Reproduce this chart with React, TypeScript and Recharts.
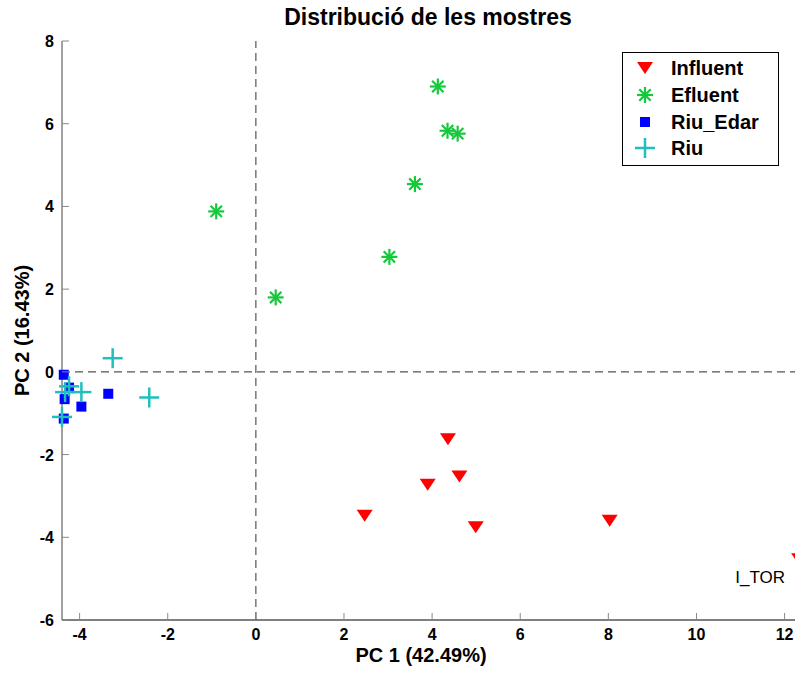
import { ScatterChart, Scatter, XAxis, YAxis, ReferenceLine, Legend } from "recharts";

// PCA scores
const influentX = [4.36, 4.62, 3.9, 2.47, 4.99, 8.03, 12.33];
const influentY = [-1.63, -2.53, -2.73, -3.48, -3.76, -3.6, -4.53];
const influentNames = ["", "", "", "", "", "", "I_TOR"];

const efluentX = [4.13, 4.35, 4.58, 3.61, -0.9, 3.03, 0.45];
const efluentY = [6.9, 5.83, 5.76, 4.54, 3.88, 2.78, 1.8];

const riuEdarX = [-4.36, -4.24, -4.34, -3.96, -3.35, -4.36];
const riuEdarY = [-0.07, -0.38, -0.66, -0.84, -0.53, -1.13];

const riuX = [-3.25, -2.42, -4.24, -4.33, -3.96, -4.4];
const riuY = [0.33, -0.62, -0.35, -0.49, -0.49, -1.09];

const xTicks = [-4, -2, 0, 2, 4, 6, 8, 10, 12];
const yTicks = [-6, -4, -2, 0, 2, 4, 6, 8];

const RED = "#ff0000";
const GREEN = "#14c93c";
const BLUE = "#0000ff";
const CYAN = "#1fbfbf";
const FONT = "'Liberation Sans', Arial, Helvetica, sans-serif";

const toPoints = (xs: number[], ys: number[], names?: string[]) =>
  xs.map((x, i) => ({ x, y: ys[i], name: names ? names[i] : "" }));

function TriangleDown(props: any) {
  const { cx, cy, payload } = props;
  return (
    <g>
      <path d={`M${cx - 8},${cy - 6}L${cx + 8},${cy - 6}L${cx},${cy + 6}Z`} fill={RED} />
      {payload && payload.name ? (
        <text x={cx - 14} y={cy + 24} textAnchor="end" fontSize={17} fontFamily={FONT} fill="#000">
          {payload.name}
        </text>
      ) : null}
    </g>
  );
}

function Asterisk(props: any) {
  const { cx, cy } = props;
  const r = 8;
  const d = 5.7;
  return (
    <g stroke={GREEN} strokeWidth={2.2}>
      <line x1={cx - r} y1={cy} x2={cx + r} y2={cy} />
      <line x1={cx} y1={cy - r} x2={cx} y2={cy + r} />
      <line x1={cx - d} y1={cy - d} x2={cx + d} y2={cy + d} />
      <line x1={cx - d} y1={cy + d} x2={cx + d} y2={cy - d} />
    </g>
  );
}

function Square(props: any) {
  const { cx, cy } = props;
  return <rect x={cx - 5} y={cy - 5} width={10} height={10} fill={BLUE} />;
}

function Plus(props: any) {
  const { cx, cy } = props;
  const r = 10;
  return (
    <g stroke={CYAN} strokeWidth={2.5}>
      <line x1={cx - r} y1={cy} x2={cx + r} y2={cy} />
      <line x1={cx} y1={cy - r} x2={cx} y2={cy + r} />
    </g>
  );
}

const series = [
  { name: "Influent", Shape: TriangleDown },
  { name: "Efluent", Shape: Asterisk },
  { name: "Riu_Edar", Shape: Square },
  { name: "Riu", Shape: Plus },
];

function LegendBox() {
  return (
    <div
      style={{
        width: 157,
        height: 114,
        boxSizing: "border-box",
        border: "1.5px solid #000",
        background: "#fff",
        fontFamily: FONT,
        fontWeight: "bold",
        fontSize: 20,
        paddingTop: 2,
      }}
    >
      {series.map(({ name, Shape }) => (
        <div key={name} style={{ display: "flex", alignItems: "center", height: 26.7 }}>
          <svg width={48} height={26} style={{ flex: "none" }}>
            <Shape cx={22} cy={13} />
          </svg>
          <span style={{ lineHeight: "22px" }}>{name}</span>
        </div>
      ))}
    </div>
  );
}

function BottomTick(props: any) {
  const { x, y, payload } = props;
  return (
    <g>
      <line x1={x} x2={x} y1={y} y2={y - 7} stroke="#888" />
      <text x={x} y={y + 20} textAnchor="middle" fontSize={16} fontWeight="bold" fontFamily={FONT} fill="#000">
        {payload.value}
      </text>
    </g>
  );
}

function TopTick(props: any) {
  const { x, y } = props;
  return <line x1={x} x2={x} y1={y} y2={y + 7} stroke="#888" />;
}

function LeftTick(props: any) {
  const { x, y, payload } = props;
  return (
    <g>
      <line x1={x} x2={x + 7} y1={y} y2={y} stroke="#888" />
      <text x={x - 8} y={y + 6} textAnchor="end" fontSize={16} fontWeight="bold" fontFamily={FONT} fill="#000">
        {payload.value}
      </text>
    </g>
  );
}

export default function App() {
  return (
    <div
      style={{
        position: "absolute",
        left: 0,
        top: 0,
        width: 795,
        height: 675,
        overflow: "hidden",
        background: "#fff",
      }}
    >
      <div
        style={{
          position: "absolute",
          left: 0,
          top: 5,
          width: 856,
          textAlign: "center",
          fontFamily: FONT,
          fontWeight: "bold",
          fontSize: 23,
          lineHeight: "25px",
        }}
      >
        Distribució de les mostres
      </div>
      <div
        style={{
          position: "absolute",
          left: 0,
          top: 644,
          width: 842,
          textAlign: "center",
          fontFamily: FONT,
          fontWeight: "bold",
          fontSize: 20,
          lineHeight: "22px",
        }}
      >
        PC 1 (42.49%)
      </div>
      <ScatterChart width={803} height={675} margin={{ top: 41, right: 3, bottom: 0, left: 0 }}>
        <XAxis
          xAxisId="top"
          orientation="top"
          type="number"
          dataKey="x"
          domain={[-4.4, 12.35]}
          ticks={xTicks}
          interval={0}
          height={0}
          tickLine={false}
          tickSize={0}
          tickMargin={0}
          tick={<TopTick />}
          axisLine={{ stroke: "#000" }}
        />
        <XAxis
          type="number"
          dataKey="x"
          domain={[-4.4, 12.35]}
          ticks={xTicks}
          interval={0}
          height={55}
          tickLine={false}
          tickSize={0}
          tickMargin={0}
          tick={<BottomTick />}
          axisLine={{ stroke: "#000" }}
        />
        <YAxis
          type="number"
          dataKey="y"
          domain={[-6, 8]}
          ticks={yTicks}
          interval={0}
          width={62}
          tickLine={false}
          tickSize={0}
          tickMargin={0}
          tick={<LeftTick />}
          axisLine={{ stroke: "#444" }}
          label={{
            content: (p: any) => {
              const vb = p.viewBox || { y: 41, height: 579 };
              const cy = vb.y + vb.height / 2;
              return (
                <text
                  x={29}
                  y={cy}
                  transform={`rotate(-90, 29, ${cy})`}
                  textAnchor="middle"
                  fontSize={20}
                  fontWeight="bold"
                  fontFamily={FONT}
                  fill="#000"
                >
                  PC 2 (16.43%)
                </text>
              );
            },
          }}
        />
        <ReferenceLine x={0} stroke="#555" strokeWidth={1.2} strokeDasharray="8 5" />
        <ReferenceLine y={0} stroke="#555" strokeWidth={1.2} strokeDasharray="8 5" />
        <Scatter name="Influent" data={toPoints(influentX, influentY, influentNames)} shape={<TriangleDown />} isAnimationActive={false} />
        <Scatter name="Efluent" data={toPoints(efluentX, efluentY)} shape={<Asterisk />} isAnimationActive={false} />
        <Scatter name="Riu_Edar" data={toPoints(riuEdarX, riuEdarY)} shape={<Square />} isAnimationActive={false} />
        <Scatter name="Riu" data={toPoints(riuX, riuY)} shape={<Plus />} isAnimationActive={false} />
        <Legend
          layout="vertical"
          verticalAlign="middle"
          align="center"
          content={() => <LegendBox />}
          wrapperStyle={{ left: 622, top: 52, width: 157, height: 114 }}
        />
      </ScatterChart>
    </div>
  );
}
